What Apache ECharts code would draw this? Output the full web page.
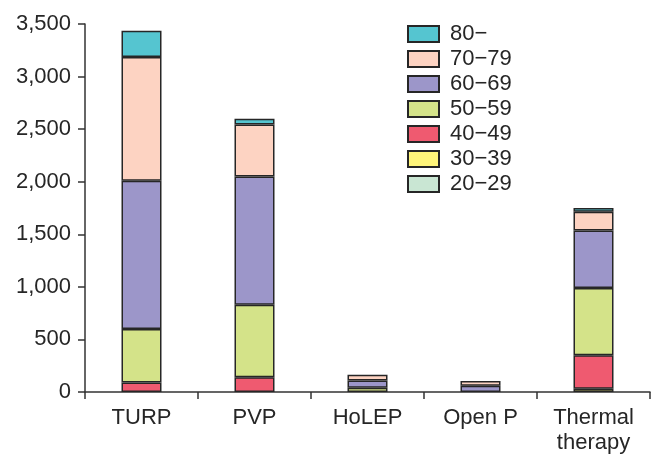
<!DOCTYPE html>
<html>
<head>
<meta charset="utf-8">
<script src="https://cdn.jsdelivr.net/npm/echarts@6/dist/echarts.min.js"></script>
<style>html,body{margin:0;padding:0;background:#fff}#c{width:652px;height:455px}</style>
</head>
<body>
<div id="c"></div>
<script>
var categories = ['TURP', 'PVP', 'HoLEP', 'Open P', 'Thermal\ntherapy'];
var ageGroups = ['20\u221229', '30\u221239', '40\u221249', '50\u221259', '60\u221269', '70\u221279', '80\u2212'];
var v20_29 = [0, 0, 0, 0, 0];
var v30_39 = [0, 0, 0, 0, 30];
var v40_49 = [90, 140, 0, 0, 320];
var v50_59 = [510, 690, 40, 0, 640];
var v60_69 = [1410, 1220, 70, 60, 545];
var v70_79 = [1175, 495, 55, 45, 180];
var v80 = [250, 55, 0, 0, 35];
var yTicks = [0, 500, 1000, 1500, 2000, 2500, 3000, 3500];

var values = [v20_29, v30_39, v40_49, v50_59, v60_69, v70_79, v80];
var colors = ['#C9E6D3', '#FFF57A', '#EF5A70', '#D4E389', '#9C96C9', '#FDD3C2', '#55C5D0'];
var FONT = 'Liberation Sans, Arial, Helvetica, sans-serif';
var TEXT = '#262626';

var series = ageGroups.map(function (name, i) {
  return {
    name: name,
    type: 'bar',
    stack: 'total',
    barWidth: 40,
    data: values[i].map(function (v) { return v === 0 ? null : v; }),
    itemStyle: { color: colors[i], borderColor: '#262626', borderWidth: 1.5 },
    emphasis: { disabled: true }
  };
});

var chart = echarts.init(document.getElementById('c'), null, { renderer: 'canvas' });
chart.setOption({
  animation: false,
  grid: { left: 85, right: 2, top: 24, bottom: 61, containLabel: false },
  legend: {
    orient: 'vertical',
    left: 407,
    top: 23,
    padding: 0,
    itemWidth: 31,
    itemHeight: 16,
    itemGap: 3,
    data: ageGroups.slice().reverse(),
    textStyle: { fontFamily: FONT, fontSize: 22, color: TEXT, padding: [0, 0, 0, 6] },
    icon: 'rect'
  },
  xAxis: {
    type: 'category',
    data: categories,
    boundaryGap: true,
    axisLine: { lineStyle: { color: '#333', width: 1.5 } },
    axisTick: { show: true, length: 7, alignWithLabel: false, lineStyle: { color: '#333', width: 1.5 } },
    axisLabel: { fontFamily: FONT, fontSize: 22, color: TEXT, margin: 13, lineHeight: 25, interval: 0 }
  },
  yAxis: {
    type: 'value',
    min: 0,
    max: 3500,
    interval: 500,
    splitLine: { show: false },
    axisLine: { show: true, lineStyle: { color: '#333', width: 1.5 } },
    axisTick: { show: true, length: 7, lineStyle: { color: '#333', width: 1.5 } },
    axisLabel: {
      fontFamily: FONT, fontSize: 22, color: TEXT, margin: 14,
      formatter: function (v) { return yTicks.indexOf(v) >= 0 ? v.toLocaleString('en-US') : ''; }
    }
  },
  series: series
});
</script>
</body>
</html>
